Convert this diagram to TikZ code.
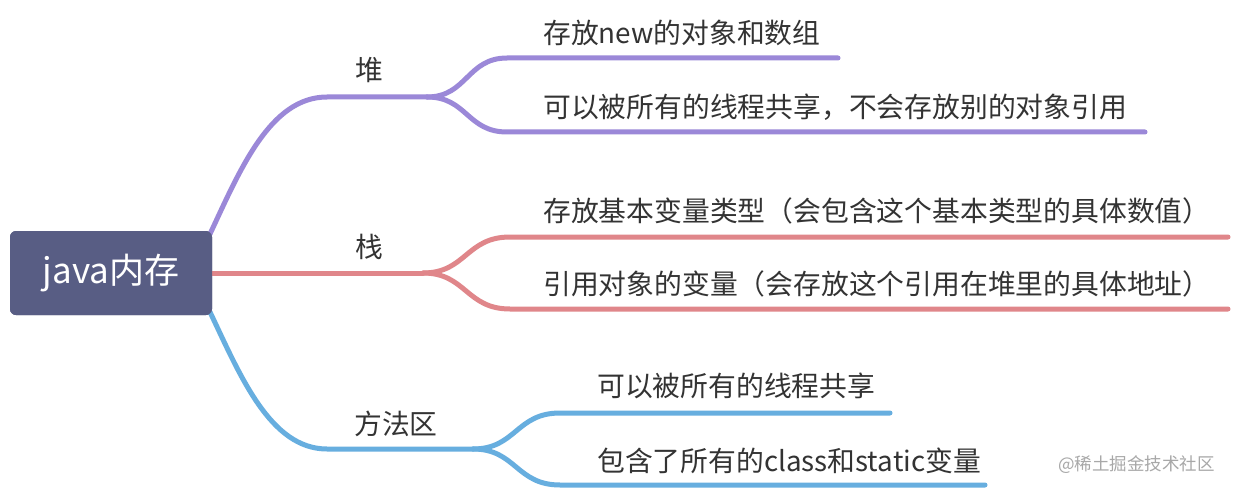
\documentclass[tikz,border=0pt]{standalone}
\usepackage{fontspec}
\setmainfont{Noto Sans CJK SC}
\definecolor{purp}{HTML}{9B88D8}
\definecolor{redb}{HTML}{E0868A}
\definecolor{blueb}{HTML}{67AEDF}
\definecolor{rootc}{HTML}{585D84}
\definecolor{txt}{HTML}{333333}
\definecolor{wm}{HTML}{A8A8A8}
\begin{document}
\begin{tikzpicture}[x=1pt,y=-1pt,
  leaf/.style={anchor=west,inner sep=0pt,font=\fontsize{27.8}{30}\selectfont,text=txt},
  lbl/.style={inner sep=0pt,font=\fontsize{27.8}{30}\selectfont,text=txt},
  rootbox/.style={fill=rootc,rounded corners=6pt,minimum width=202pt,minimum height=84pt,inner sep=0pt,
    text=white,font=\fontsize{35}{40}\selectfont},
  br/.style={line width=5pt,line cap=round}]
\useasboundingbox (0,0) rectangle (1236,492);
\fill[white] (0,0) rectangle (1236,492);
% root
\node[rootbox] (root) at (111,273) {java内存};
% coordinates
\coordinate (pA) at (210,234);
\coordinate (pS) at (327,97);
\coordinate (pF) at (427,97);
\coordinate (p1s) at (507,58);
\coordinate (p1e) at (838,58);
\coordinate (p2s) at (507,132);
\coordinate (p2e) at (1145,132);
\coordinate (rA) at (212,273);
\coordinate (rF) at (423,273);
\coordinate (r1s) at (510,237);
\coordinate (r1e) at (1228,237);
\coordinate (r2s) at (510,309);
\coordinate (r2e) at (1228,309);
\coordinate (bA) at (210,312);
\coordinate (bS) at (327,449);
\coordinate (bF) at (473,449);
\coordinate (b1s) at (560,413);
\coordinate (b1e) at (890,413);
\coordinate (b2s) at (560,485);
\coordinate (b2e) at (985,485);
% purple branch
\draw[br,purp] (pA) .. controls (240,170) and (270,97) .. (pS) -- (pF);
\draw[br,purp] (pF) .. controls (467,97) and (467,58) .. (p1s) -- (p1e);
\draw[br,purp] (pF) .. controls (467,97) and (467,132) .. (p2s) -- (p2e);
% red branch
\draw[br,redb] (rA) -- (rF);
\draw[br,redb] (rF) .. controls (466,273) and (466,237) .. (r1s) -- (r1e);
\draw[br,redb] (rF) .. controls (466,273) and (466,309) .. (r2s) -- (r2e);
% blue branch
\draw[br,blueb] (bA) .. controls (240,375) and (270,449) .. (bS) -- (bF);
\draw[br,blueb] (bF) .. controls (516,449) and (516,413) .. (b1s) -- (b1e);
\draw[br,blueb] (bF) .. controls (516,449) and (516,485) .. (b2s) -- (b2e);
% redraw root on top
\node[rootbox] at (root) {java内存};
% labels
\node[lbl] (heap) at (369,70) {堆};
\node[lbl] (stack) at (369,247) {栈};
\node[lbl] (method) at (396,424) {方法区};
% leaves
\node[leaf] (h1) at (543,33) {存放new的对象和数组};
\node[leaf] (h2) at (543,107) {可以被所有的线程共享，不会存放别的对象引用};
\node[leaf] (s1) at (543,211) {存放基本变量类型（会包含这个基本类型的具体数值）};
\node[leaf] (s2) at (543,284) {引用对象的变量（会存放这个引用在堆里的具体地址）};
\node[leaf] (m1) at (597,386) {可以被所有的线程共享};
\node[leaf] (m2) at (597,461) {包含了所有的class和static变量};
% watermark
\node[anchor=west,inner sep=0pt,text=wm,font=\fontsize{17.5}{20}\selectfont] (wmk) at (1058,465) {@稀土掘金技术社区};
\end{tikzpicture}
\end{document}
